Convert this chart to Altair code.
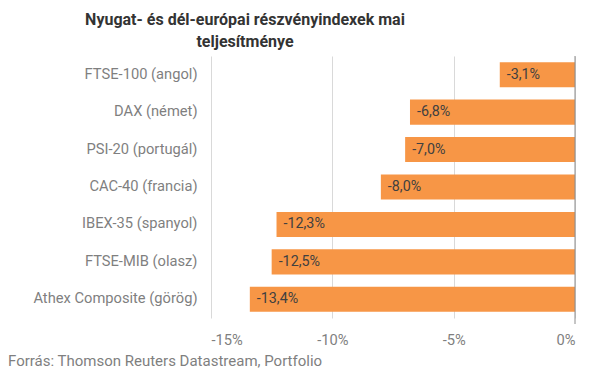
import altair as alt
import pandas as pd

indices = ["FTSE-100 (angol)", "DAX (német)", "PSI-20 (portugál)", "CAC-40 (francia)",
           "IBEX-35 (spanyol)", "FTSE-MIB (olasz)", "Athex Composite (görög)"]
changes = [-3.1, -6.8, -7.0, -8.0, -12.3, -12.5, -13.4]
x_ticks = [-15, -10, -5, 0]
title_lines = ["Nyugat- és dél-európai részvényindexek mai", "teljesítménye"]
source = "Forrás: Thomson Reuters Datastream, Portfolio"

df = pd.DataFrame({"index": indices, "change": changes})
df["label"] = [f"{v:.1f}%".replace(".", ",") for v in changes]

W, H = 364, 262
FONT = "Roboto"
FS = 14.7

y_enc = alt.Y("index:N", sort=indices, title=None,
              scale=alt.Scale(paddingInner=0.33, paddingOuter=0.165),
              axis=alt.Axis(ticks=False, domain=False, labelPadding=14, labelFontSize=FS,
                            labelColor="#7f7f7f", labelFont=FONT, minExtent=193, maxExtent=193))
x_scale = alt.Scale(domain=[-15, 0], nice=False)

bars = alt.Chart(df).mark_bar(color="#F79646").encode(
    x=alt.X("change:Q", scale=x_scale, title=None,
            axis=alt.Axis(values=x_ticks, labelExpr="datum.value + '%'", ticks=False, domain=False,
                          grid=True, gridColor="#d9d9d9", labelPadding=14, labelFontSize=FS,
                          labelColor="#7f7f7f", labelFont=FONT)),
    y=y_enc,
)

labels = alt.Chart(df).mark_text(align="left", baseline="middle", dx=7, fontSize=14.3,
                                 color="#404040", font=FONT).encode(
    x=alt.X("change:Q", scale=x_scale),
    y=alt.Y("index:N", sort=indices),
    text="label:N",
)

zero = alt.Chart(pd.DataFrame({"z": [0]})).mark_rule(color="#8c8c8c", strokeWidth=1).encode(
    x=alt.X("z:Q", scale=x_scale), y=alt.value(0), y2=alt.value(H + 6))

src = alt.Chart(pd.DataFrame({"t": [source]})).mark_text(
    align="left", baseline="middle", fontSize=15, color="#7f7f7f", font=FONT).encode(
    x=alt.value(-203), y=alt.value(H + 43), text="t:N")

chart = alt.layer(bars, labels, zero, src).properties(
    width=W, height=H,
    padding={"left": 0, "top": 3, "right": 5, "bottom": 5},
    title=alt.TitleParams(title_lines, anchor="middle", frame="group", dx=-148,
                          font=FONT, fontSize=16, fontWeight="bold", color="#333333",
                          lineHeight=22, offset=6),
).configure_view(stroke=None)

chart.save("out.html", embed_options={"renderer": "svg", "actions": False})
